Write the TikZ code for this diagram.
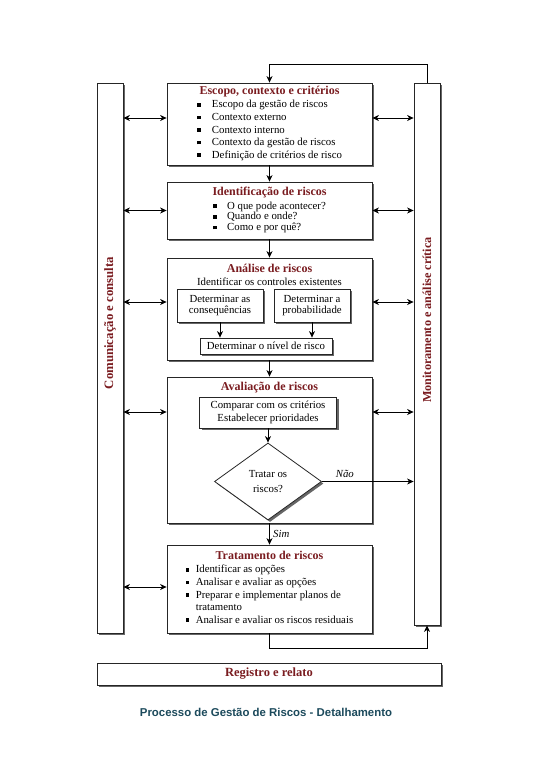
\documentclass[tikz,border=0pt]{standalone}
\usepackage{fontspec}
\setmainfont{Liberation Serif}
\newfontfamily\captionfont{Liberation Sans}
\usepackage{tikz}
\usetikzlibrary{shapes,arrows.meta,shadows,calc}
\definecolor{headred}{RGB}{122,28,32}
\definecolor{captionblue}{RGB}{28,74,92}
\newcommand{\hd}[1]{{\fontsize{12}{14}\selectfont\bfseries\color{headred}#1}}
\newcommand{\itm}[1][15pt]{\makebox[#1][l]{\rule[1.3pt]{3.6pt}{3.6pt}}}

\begin{document}
\begin{tikzpicture}[x=1pt,y=-1pt,>={Stealth[length=6.5pt,width=6pt,inset=2pt]},
	every node/.style={font=\fontsize{10.8}{12.6}\selectfont},
	stage/.style={draw=black!85,line width=.8pt,fill=white,rectangle,align=center,inner sep=2pt,
		drop shadow={shadow xshift=2pt,shadow yshift=-2pt,fill=black!60,opacity=1}},
	substep/.style={stage,inner sep=1pt,font=\fontsize{10.8}{11.5}\selectfont},
	column/.style={stage,minimum width=26pt,inner sep=0pt},
	sidetext/.style={rotate=90,text=headred,font=\fontsize{12.2}{14}\selectfont\bfseries},
	decision/.style={diamond,draw=black!85,line width=.8pt,fill=white,align=center,inner sep=0pt,
		minimum width=107pt,minimum height=77pt,
		drop shadow={shadow xshift=2pt,shadow yshift=-2pt,fill=black!60,opacity=1}},
	line width=.8pt]
	\fill[white] (0,0) rectangle (543,768);
	\useasboundingbox (0,0) rectangle (543,768);
	% side columns
	\node (comm)    [column,minimum height=550pt] at (110,358) {};
	\node (commtxt) [sidetext,font=\fontsize{12.8}{14}\selectfont\bfseries] at (110,323) {Comunicação e consulta};
	\node (monitor) [column,minimum height=542pt] at (427,354) {};
	\node (montxt)  [sidetext] at (427,320) {Monitoramento e análise crítica};
	% main stages
	\node (scope) [stage,minimum width=205pt,minimum height=82pt] at (269.5,124) {\hd{Escopo, contexto e critérios}\\[1pt]
		\begin{tabular}[t]{@{}l@{}}\itm Escopo da gestão de riscos\\ \itm Contexto externo\\ \itm Contexto interno\\
		\itm Contexto da gestão de riscos\\ \itm Definição de critérios de risco\end{tabular}};
	\node (ident) [stage,minimum width=205pt,minimum height=57pt] at (269.5,210.5) {\hd{Identificação de riscos}\\[1pt]
		\def\arraystretch{.83}\begin{tabular}[t]{@{}l@{}}\itm[14pt]O que pode acontecer?\\ \itm[14pt]Quando e onde?\\ \itm[14pt]Como e por quê?\end{tabular}};
	\node (analysis)    [stage,minimum width=205pt,minimum height=102pt] at (269.5,309) {};
	\node (analysisttl) at (269.5,268) {\hd{Análise de riscos}};
	\node (controls)    at (269.5,282) {Identificar os controles existentes};
	\node (conseq) [substep,minimum width=86pt,minimum height=33pt] at (220,305.5) {Determinar as\\consequências};
	\node (prob)   [substep,minimum width=76pt,minimum height=33pt] at (312,305.5) {Determinar a\\probabilidade};
	\node (level)  [substep,minimum width=132pt,minimum height=16pt] at (266,346) {Determinar o nível de risco};
	\node (assess)    [stage,minimum width=205pt,minimum height=146pt] at (269.5,450) {};
	\node (assessttl) at (269.5,388) {\hd{Avaliação de riscos}};
	\node (compare) [substep,minimum width=137pt,minimum height=31pt,font=\fontsize{10.8}{12.8}\selectfont] at (268,412.5) {Comparar com os critérios\\Estabelecer prioridades};
	\node (decide)  [decision] at (268,481.5) {Tratar os\\[1.5pt]riscos?};
	\node (treat) [stage,minimum width=205pt,minimum height=88pt] at (269.5,589) {\hd{Tratamento de riscos}\\[1pt]
		\begin{tabular}[t]{@{}l@{}}\itm[10pt]Identificar as opções\\ \itm[10pt]Analisar e avaliar as opções\\
		\itm[10pt]Preparar e implementar planos de\\ \hspace*{10pt}tratamento\\ \itm[10pt]Analisar e avaliar os riscos residuais\end{tabular}};
	\node (record)  [stage,minimum width=344pt,minimum height=22pt,font=\fontsize{12.5}{14}\selectfont\bfseries,text=headred] at (269,674) {Registro e relato};
	\node (caption) [font=\captionfont\bfseries\fontsize{11.4}{13}\selectfont,text=captionblue] at (266,712) {Processo de Gestão de Riscos - Detalhamento};
	% flow
	\draw [->] (monitor.north) -- ++(0,-18) -| (scope.north);
	\draw [->] (scope.south) -- (ident.north);
	\draw [->] (ident.south) -- (analysis.north);
	\draw [->] (conseq.south) -- (conseq.south |- level.north);
	\draw [->] (prob.south) -- (prob.south |- level.north);
	\draw [->] (analysis.south) -- (assess.north);
	\draw [->] (compare.south) -- (decide.north);
	\draw [->] (decide.east) -- (decide.east -| monitor.west) node[above,pos=.25] {\textit{Não}};
	\draw [->] (assess.south) -- (treat.north) node[right,midway] {\textit{Sim}};
	\draw [->] (treat.south) -- ++(0,15) -| (monitor.south);
	% links to the side columns
	\foreach \stagebox/\dy in {scope/6,ident/0,analysis/7,assess/38,treat/2}
		\coordinate (\stagebox-in) at ($(\stagebox.west)+(0,-\dy)$);
	\foreach \stagebox in {scope,ident,analysis,assess,treat}
		\draw [<->] (comm.east |- \stagebox-in) -- (\stagebox-in);
	\foreach \stagebox in {scope,ident,analysis,assess}
		\draw [<->] (\stagebox.east |- \stagebox-in) -- (monitor.west |- \stagebox-in);
\end{tikzpicture}
\end{document}
